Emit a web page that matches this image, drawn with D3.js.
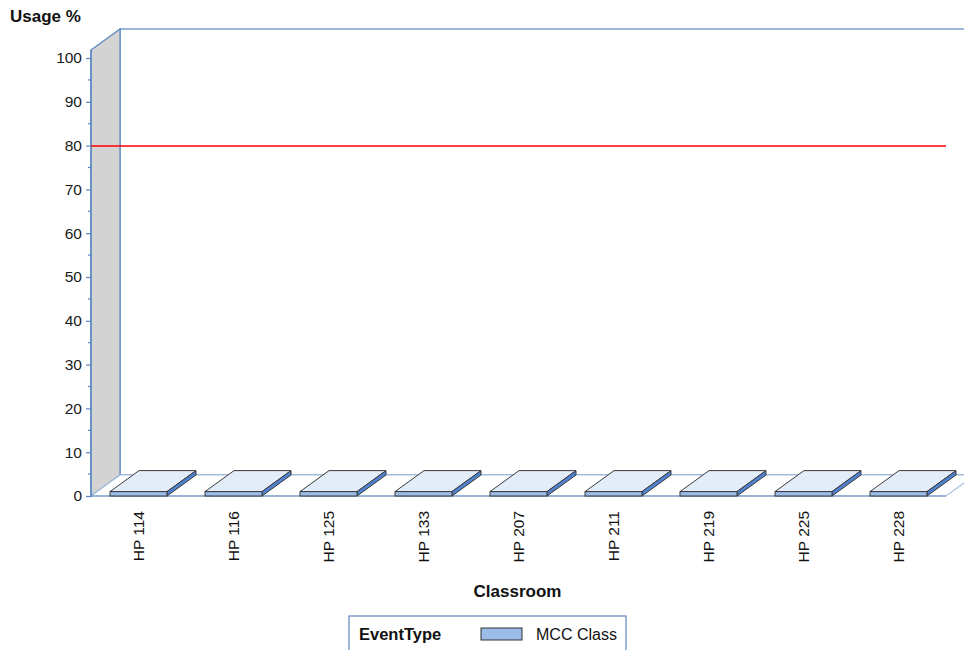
<!DOCTYPE html>
<html>
<head>
<meta charset="utf-8">
<script src="https://cdn.jsdelivr.net/npm/d3@7"></script>
<style>
  body { margin: 0; background: #fff; }
  svg { display: block; font-family: Arial, "Liberation Sans", sans-serif; }
</style>
</head>
<body>
<svg id="chart" width="964" height="650"></svg>
<script>
// ---- data ----
const categories = ["HP 114", "HP 116", "HP 125", "HP 133", "HP 207", "HP 211", "HP 219", "HP 225", "HP 228"];
const usageValues = [1, 1, 1, 1, 1, 1, 1, 1, 1];
const yTicks = [0, 10, 20, 30, 40, 50, 60, 70, 80, 90, 100];
const referenceValue = 80;
const seriesName = "MCC Class";
const legendTitle = "EventType";
const xTitle = "Classroom";
const yTitle = "Usage %";

// ---- layout ----
const svg = d3.select("#chart");
const left = 91, right = 946, bottom = 496, top100 = 58;
const dx = 29, dy = -21;
const axisColor = "#5a87c0";

const x = d3.scaleBand().domain(categories).range([left, right]).paddingInner(0.4).paddingOuter(0.2);
const y = d3.scaleLinear().domain([0, 100]).range([bottom, top100]);
const panelTop = y(100) - 8;

// back wall
svg.append("rect").attr("x", left + dx).attr("y", panelTop + dy)
  .attr("width", 1000).attr("height", bottom - panelTop)
  .attr("fill", "#fff").attr("stroke", axisColor).attr("stroke-width", 1.2);

// left side wall
svg.append("polygon")
  .attr("points", [[left, panelTop], [left + dx, panelTop + dy], [left + dx, bottom + dy], [left, bottom]].map(p => p.join(",")).join(" "))
  .attr("fill", "#d3d3d3").attr("stroke", axisColor).attr("stroke-width", 1.2);

// floor
svg.append("polygon")
  .attr("points", [[left, bottom], [left + dx, bottom + dy], [right + dx, bottom + dy], [right, bottom]].map(p => p.join(",")).join(" "))
  .attr("fill", "#fff").attr("stroke", "#a9bfdc").attr("stroke-width", 1.2);
svg.append("line").attr("x1", left).attr("x2", right).attr("y1", bottom).attr("y2", bottom)
  .attr("stroke", axisColor).attr("stroke-width", 1.2);

// bars
const bars = svg.append("g").selectAll("g").data(categories).join("g");
const bw = x.bandwidth();
bars.each(function(c, i) {
  const g = d3.select(this);
  const x0 = x(c), x1 = x(c) + bw;
  const y0 = y(0), y1 = y(usageValues[i]);
  // top
  g.append("polygon")
    .attr("points", [[x0, y1], [x0 + dx, y1 + dy], [x1 + dx, y1 + dy], [x1, y1]].map(p => p.join(",")).join(" "))
    .attr("fill", "#e3edf9").attr("stroke", "#3a3a3a").attr("stroke-width", 1);
  // side
  g.append("polygon")
    .attr("points", [[x1, y1], [x1 + dx, y1 + dy], [x1 + dx, y0 + dy], [x1, y0]].map(p => p.join(",")).join(" "))
    .attr("fill", "#5182cf").attr("stroke", "#3a3a3a").attr("stroke-width", 1);
  // front
  g.append("rect").attr("x", x0).attr("y", y1).attr("width", bw).attr("height", y0 - y1)
    .attr("fill", "#9bbce9").attr("stroke", "#3a3a3a").attr("stroke-width", 1);
});

// y axis line
svg.append("line").attr("x1", left).attr("x2", left).attr("y1", panelTop).attr("y2", bottom + 1)
  .attr("stroke", axisColor).attr("stroke-width", 1.4);

// y ticks
const yAxis = d3.axisLeft(y).tickValues(yTicks).tickSize(5).tickPadding(4);
const yg = svg.append("g").attr("transform", `translate(${left},0)`).call(yAxis);
yg.select(".domain").remove();
yg.selectAll(".tick line").attr("stroke", axisColor).attr("stroke-width", 1.2);
yg.selectAll(".tick text").attr("font-size", 15.5).attr("fill", "#1a1a1a").attr("font-family", "Arial, 'Liberation Sans', sans-serif");
// minor ticks
const minor = d3.range(5, 100, 10);
svg.append("g").selectAll("line").data(minor).join("line")
  .attr("x1", left - 3).attr("x2", left).attr("y1", d => y(d)).attr("y2", d => y(d))
  .attr("stroke", axisColor).attr("stroke-width", 1.2);

// reference line
const yRef = Math.round(y(referenceValue));
svg.append("line").attr("x1", left).attr("x2", right).attr("y1", yRef).attr("y2", yRef)
  .attr("stroke", "#ff0000").attr("stroke-width", 1.3);

// x labels
svg.append("g").selectAll("text").data(categories).join("text")
  .attr("transform", c => `translate(${x(c) + bw / 2 + 0.5},511) rotate(-90)`)
  .attr("text-anchor", "end").attr("dy", "0.35em")
  .attr("font-size", 15.5).attr("fill", "#111").text(c => c);

// titles
svg.append("text").attr("x", 10).attr("y", 22).attr("font-size", 17).attr("font-weight", "bold").attr("fill", "#111").text(yTitle);
svg.append("text").attr("x", (left + right) / 2 - 1).attr("y", 597).attr("text-anchor", "middle")
  .attr("font-size", 17).attr("font-weight", "bold").attr("fill", "#111").text(xTitle);

// legend
const lg = svg.append("g");
lg.append("rect").attr("x", 349).attr("y", 616).attr("width", 277).attr("height", 60)
  .attr("fill", "#fff").attr("stroke", axisColor).attr("stroke-width", 1.2);
lg.append("text").attr("x", 359).attr("y", 640).attr("font-size", 16.5).attr("font-weight", "bold").attr("fill", "#111").text(legendTitle);
lg.append("rect").attr("x", 481).attr("y", 628).attr("width", 41).attr("height", 12)
  .attr("fill", "#9bbce9").attr("stroke", "#333").attr("stroke-width", 1);
lg.append("text").attr("x", 536).attr("y", 640).attr("font-size", 16).attr("fill", "#111").text(seriesName);
</script>
</body>
</html>
